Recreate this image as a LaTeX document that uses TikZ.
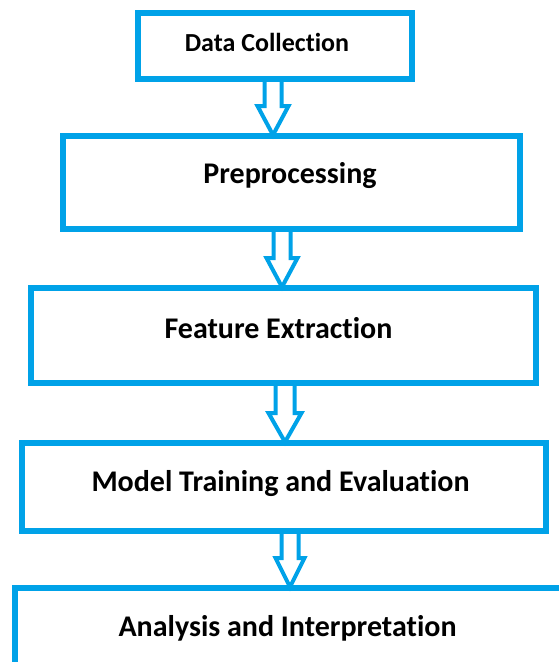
\documentclass[tikz,border=0pt]{standalone}
\usepackage{fontspec}
\setmainfont{Carlito}[Ligatures={NoCommon,NoRare}]
\usetikzlibrary{calc}
\definecolor{boxblue}{HTML}{00A2E8}
\tikzset{
  box/.style={draw=boxblue, line width=6pt, fill=white, inner sep=0pt, outer sep=0pt},
  lbl/.style={anchor=base, inner sep=0pt, font=\bfseries\fontsize{30}{36}\selectfont, text=black},
  lblsmall/.style={lbl, font=\bfseries\fontsize{26}{31}\selectfont},
  barrowstyle/.style={draw=boxblue, line width=4pt, fill=white, line join=miter}
}
\newcommand\blockarrow[4]{%
  \draw[barrowstyle] let \p1=(#1), \p2=(#2) in
    (\x1-#3pt,\y1) -- (\x1-#3pt,\y2+30pt) -- (\x1-#4pt,\y2+30pt) -- (\x1,\y2+1pt)
    -- (\x1+#4pt,\y2+30pt) -- (\x1+#3pt,\y2+30pt) -- (\x1+#3pt,\y1);}
\begin{document}
\begin{tikzpicture}[x=1pt, y=-1pt]
\useasboundingbox (0,0) rectangle (559,662);
\clip (0,0) rectangle (559,662);
% box geometry (positions)
\path (275,46) node[box, minimum width=274pt, minimum height=66pt] (b1) {};
\path (291.5,182.5) node[box, minimum width=457pt, minimum height=93pt] (b2) {};
\path (283.5,335.5) node[box, minimum width=505pt, minimum height=95pt] (b3) {};
\path (284,487) node[box, minimum width=524pt, minimum height=88pt] (b4) {};
\path (291,642.5) node[box, minimum width=552pt, minimum height=109pt] (b5) {};
% connector start points
\coordinate (a1) at ($(b1.south)+(-2,0)$);
\coordinate (a2) at ($(b2.south)+(-9.5,0)$);
\coordinate (a3) at ($(b3.south)+(1.5,0)$);
\coordinate (a4) at ($(b4.south)+(6,0)$);
\coordinate (e1) at (a1 |- b2.north);
\coordinate (e2) at (a2 |- b3.north);
\coordinate (e3) at (a3 |- b4.north);
\coordinate (e4) at (a4 |- b5.north);
\blockarrow{a1}{e1}{8.5}{15.5}
\blockarrow{a2}{e2}{8.5}{15.5}
\blockarrow{a3}{e3}{9.5}{16.5}
\blockarrow{a4}{e4}{8.5}{14.5}
% redraw box borders on top
\foreach \b in {b1,b2,b3,b4,b5}{
  \draw[draw=boxblue, line width=6pt] (\b.north west) rectangle (\b.south east);
}
% labels
\node[lblsmall] (t1) at (267,51) {Data Collection};
\node[lbl] (t2) at (290,183) {Preprocessing};
\node[lbl] (t3) at (278.5,338) {Feature Extraction};
\node[lbl] (t4) at (280.5,491) {Model Training and Evaluation};
\node[lbl] (t5) at (287.5,636) {Analysis and Interpretation};
\end{tikzpicture}
\end{document}
